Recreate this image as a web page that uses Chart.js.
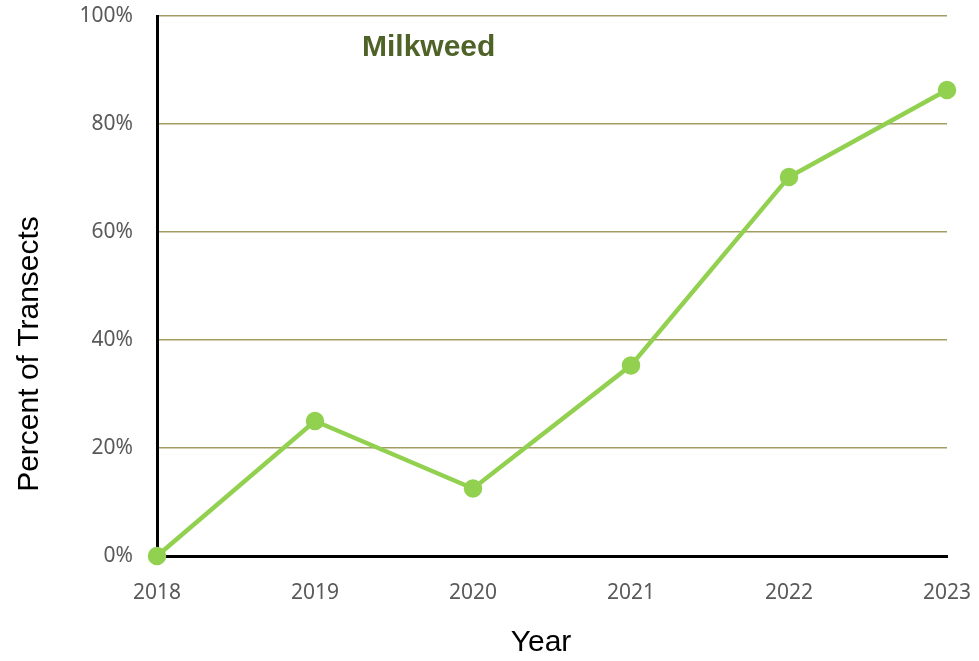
<!DOCTYPE html>
<html>
<head>
<meta charset="utf-8">
<title>Milkweed</title>
<script src="https://cdn.jsdelivr.net/npm/chart.js@4"></script>
<style>
  html, body { margin: 0; padding: 0; background: #fff; }
  #wrap { width: 979px; height: 661px; }
</style>
</head>
<body>
<div id="wrap"><canvas id="milkweedChart" width="979" height="661"></canvas></div>
<script>
const years = ["2018", "2019", "2020", "2021", "2022", "2023"];
const milkweedPct = [0, 25, 12.5, 35.3, 70.2, 86.3];
const yTicks = [0, 20, 40, 60, 80, 100];

const titleFamily = "'Liberation Sans', Arial, sans-serif";

// series name inside the plot, plus both axis titles
const chartText = {
  id: "chartText",
  afterDraw(chart) {
    const { ctx, chartArea } = chart;
    ctx.save();
    ctx.textBaseline = "middle";

    ctx.font = "bold 30px " + titleFamily;
    ctx.fillStyle = "#4f6228";
    ctx.fillText("Milkweed", chartArea.left + 205, chartArea.top + 32);

    ctx.font = "30px " + titleFamily;
    ctx.fillStyle = "#000";
    ctx.textAlign = "center";
    ctx.fillText("Year", chartArea.left + 384, chartArea.bottom + 87);

    ctx.translate(30, chartArea.top + 338);
    ctx.rotate(-Math.PI / 2);
    ctx.fillText("Percent of Transects", 0, 0);
    ctx.restore();
  }
};

const tickFont = { family: "'Noto Sans', sans-serif", size: 21 };

// fixed axis sizes, no extra room for label overhang
function noOverhang(scale) {
  scale.paddingTop = 0;
  scale.paddingBottom = 0;
  scale.paddingLeft = 0;
  scale.paddingRight = 0;
}

const ctx = document.getElementById("milkweedChart").getContext("2d");
new Chart(ctx, {
  type: "line",
  data: {
    labels: years,
    datasets: [
      {
        label: "Milkweed",
        data: milkweedPct,
        borderColor: "#92d050",
        backgroundColor: "#92d050",
        borderWidth: 4.5,
        pointRadius: 7,
        pointHoverRadius: 7,
        tension: 0,
        clip: false,
      },
    ],
  },
  options: {
    responsive: false,
    animation: false,
    layout: { padding: { top: 16, right: 32, left: 0, bottom: 0 } },
    plugins: {
      legend: { display: false },
      tooltip: { enabled: false },
    },
    scales: {
      x: {
        offset: false,
        grid: { display: false, drawTicks: false },
        border: { display: true, color: "#000", width: 3 },
        ticks: {
          color: "#595959",
          font: tickFont,
          padding: 24,
          maxRotation: 0,
        },
        afterFit(scale) { scale.height = 105; noOverhang(scale); },
      },
      y: {
        min: 0,
        max: 100,
        afterBuildTicks(scale) { scale.ticks = yTicks.map(v => ({ value: v })); },
        grid: { color: "#a39c63", lineWidth: 1.6, drawTicks: false },
        border: { display: true, color: "#000", width: 3 },
        ticks: {
          color: "#595959",
          font: tickFont,
          padding: 24,
          callback: v => v + "%",
        },
        afterFit(scale) { scale.width = 157; noOverhang(scale); },
      },
    },
  },
  plugins: [chartText],
});
</script>
</body>
</html>
